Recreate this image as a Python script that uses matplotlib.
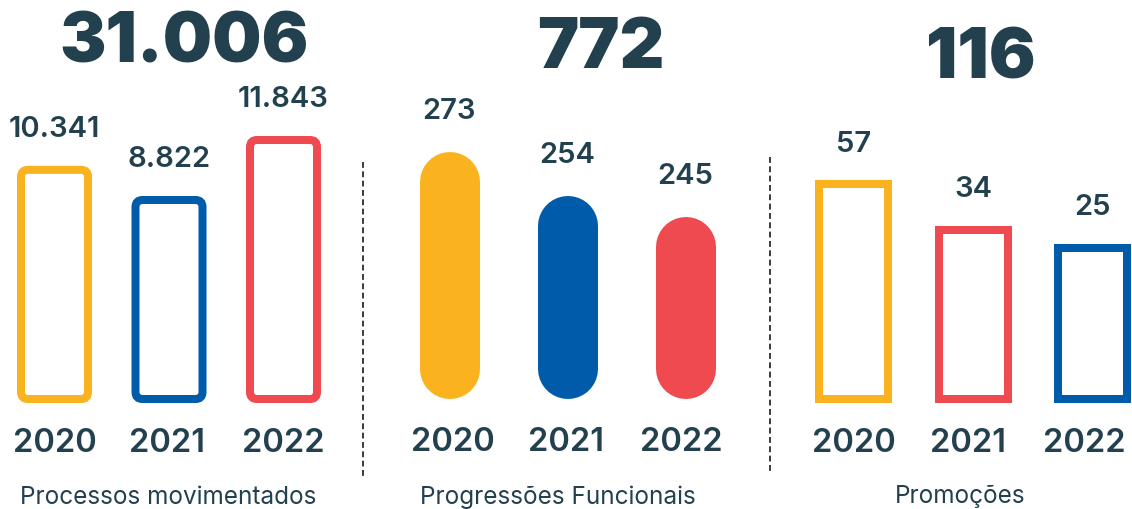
import matplotlib.pyplot as plt
from matplotlib.patches import FancyBboxPatch
from matplotlib.lines import Line2D

years = ["2020", "2021", "2022"]
processos = [10341, 8822, 11843]
progressoes = [273, 254, 245]
promocoes = [57, 34, 25]
categories = ["Processos movimentados", "Progressões Funcionais", "Promoções"]

YELLOW = "#FAB31E"
BLUE = "#005BAA"
RED = "#EF4A4F"
TEXT = "#22404E"

W, H = 1132, 509
plt.rcParams["font.family"] = ["Inter", "DejaVu Sans"]


def fmt(v):
    return f"{v:,}".replace(",", ".")


# panel layout (pixels): centre of middle bar, spacing between bars
panels = [
    dict(values=processos, colors=[YELLOW, BLUE, RED], style="round",
         mid=169, step=114.5, ylim=(-1198, 13908), bar_w=67, radius=7,
         total_off=(15, 55), year_dx=[0, -2, 0], label_x=0.497),
    dict(values=progressoes, colors=[YELLOW, BLUE, RED], style="pill",
         mid=567.5, step=118, ylim=(166.6, 295.9), bar_w=60, radius=30,
         total_off=(33, 49), year_dx=[3, -2, -4], label_x=0.473),
    dict(values=promocoes, colors=[YELLOW, RED, BLUE], style="square",
         mid=973, step=119.5, ylim=(-50.9, 100), bar_w=69, radius=0,
         total_off=(8, 39), year_dx=[0, -5, -8], label_x=0.464),
]

AX_BOTTOM, AX_TOP = 399, 99
LW_PX = 8
PT = 72 / 100  # points per pixel

fig = plt.figure(figsize=(W / 100, H / 100), dpi=100)
fig.patch.set_facecolor("white")

for p, cat in zip(panels, categories):
    left = p["mid"] - 1.5 * p["step"]
    ax = fig.add_axes([left / W, (H - AX_BOTTOM) / H, 3 * p["step"] / W,
                       (AX_BOTTOM - AX_TOP) / H])
    ax.set_xlim(-0.5, 2.5)
    ax.set_ylim(*p["ylim"])
    ax.set_facecolor("none")
    for s in ax.spines.values():
        s.set_visible(False)
    ax.set_yticks([])
    ax.set_xticks([])

    x_per_px = 1 / p["step"]
    y_per_px = (p["ylim"][1] - p["ylim"][0]) / (AX_BOTTOM - AX_TOP)
    base = p["ylim"][0]
    bw = p["bar_w"] * x_per_px

    for i, (v, c) in enumerate(zip(p["values"], p["colors"])):
        if p["style"] == "square":
            ax.bar(i, v - base, bottom=base, width=bw, facecolor="white",
                   edgecolor=c, linewidth=LW_PX * PT, joinstyle="miter",
                   clip_on=False)
        elif p["style"] == "pill":
            r = p["radius"] * y_per_px
            ax.plot([i, i], [base + r, v - r], color=c,
                    linewidth=p["bar_w"] * PT, solid_capstyle="round",
                    clip_on=False)
        else:
            patch = FancyBboxPatch(
                (i - bw / 2, base), bw, v - base,
                boxstyle=f"round,pad=0,rounding_size={p['radius'] * x_per_px}",
                mutation_aspect=y_per_px / x_per_px,
                facecolor="white", edgecolor=c,
                linewidth=LW_PX * PT, clip_on=False,
            )
            ax.add_patch(patch)
        ax.annotate(fmt(v), (i, v), xytext=(0, 29), textcoords="offset points",
                    ha="center", va="center", fontsize=21, fontweight="semibold",
                    color=TEXT, annotation_clip=False)
        # year label under each bar
        ax.annotate(years[i], (i, base), xytext=(p["year_dx"][i] * PT, -44 * PT),
                    textcoords="offset points", ha="center", va="center",
                    fontsize=23.5, fontweight="semibold", color=TEXT,
                    annotation_clip=False)

    ax.set_xlabel(cat, fontsize=17.5, color=TEXT)
    ax.xaxis.set_label_coords(p["label_x"], -98 / 300, transform=ax.transAxes)
    ax.xaxis.label.set_va("center")

    ox, oy = p["total_off"]
    ax.annotate(fmt(sum(p["values"])), (0.5, 1), xycoords="axes fraction",
                xytext=(ox * PT, oy * PT), textcoords="offset points",
                ha="center", va="center", fontsize=50, fontweight="black",
                color=TEXT, annotation_clip=False)

# dashed separators
for x, y0, y1 in [(363, 162, 477), (770, 157, 472)]:
    fig.add_artist(Line2D([x / W, x / W], [1 - y0 / H, 1 - y1 / H],
                          transform=fig.transFigure, color="#3a3a3a",
                          linewidth=1.4, linestyle=(0, (3, 1.8))))

fig.savefig("out.png", dpi=100, facecolor="white")
